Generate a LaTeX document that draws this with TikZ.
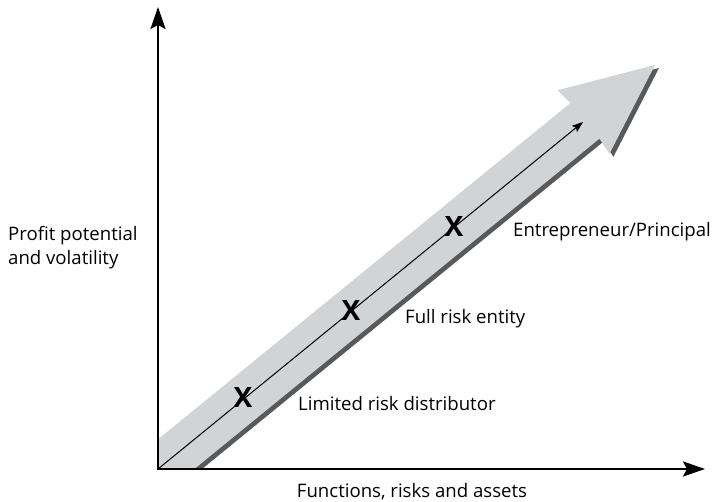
\documentclass[tikz,border=0pt]{standalone}
\usepackage{fontspec}
\setmainfont{Open Sans}
\usetikzlibrary{arrows.meta}
\definecolor{lightband}{RGB}{209,211,212}
\definecolor{darkshadow}{RGB}{88,89,91}
\begin{document}
\begin{tikzpicture}[x=1pt,y=-1pt,
  axisline/.style={line width=2.6pt,-{Stealth[length=22pt,width=15pt,inset=4pt]}},
  innerarrow/.style={line width=1pt,-{Stealth[length=11pt,width=8pt,inset=2pt]}},
  lbl/.style={anchor=base west,font=\fontsize{18.6}{22}\selectfont,inner sep=0pt},
  xmark/.style={font=\bfseries\fontsize{28}{28}\selectfont,inner sep=0pt},
  bigarrow/.style={fill=lightband,draw=none},
  bigshadow/.style={fill=darkshadow,draw=none}]
\useasboundingbox (0,0) rectangle (718,502);
\coordinate (O) at (158,469);
\coordinate (ytip) at (158,7);
\coordinate (xtip) at (705,469);
\coordinate (itip) at (583,122);
% big arrow outline points
\coordinate (A1) at (97,489.1);
\coordinate (J1) at (570.5,103);
\coordinate (B1) at (557.6,90.2);
\coordinate (T) at (655,65);
\coordinate (B2) at (609.4,153.8);
\coordinate (J2) at (599.5,138.6);
\coordinate (A2) at (126,524.7);
\begin{scope}
  \clip (158,0) rectangle (718,469);
  \begin{scope}[transform canvas={xshift=4pt,yshift=-3pt}]
    \fill[bigshadow] (A1) -- (J1) -- (B1) -- (T) -- (B2) -- (J2) -- (A2) -- cycle;
  \end{scope}
  \fill[bigarrow] (A1) -- (J1) -- (B1) -- (T) -- (B2) -- (J2) -- (A2) -- cycle;
\end{scope}
\draw[innerarrow] (O) -- (itip);
\draw[axisline] (O) -- (ytip);
\draw[axisline] ([xshift=-1.3pt]O) -- (xtip);
\node[xmark] (x1) at (243,398) {X};
\node[xmark] (x2) at (351,311) {X};
\node[xmark] (x3) at (454,227) {X};
\node[lbl] (ylab1) at (8,241) {Profit potential};
\node[lbl] (ylab2) at (8,265) {and volatility};
\node[lbl] (l1) at (298,411) {Limited risk distributor};
\node[lbl] (l2) at (405,324) {Full risk entity};
\node[lbl] (l3) at (513,237) {Entrepreneur/Principal};
\node[lbl,anchor=base] (xlab) at (412,497) {Functions, risks and assets};
\end{tikzpicture}
\end{document}
